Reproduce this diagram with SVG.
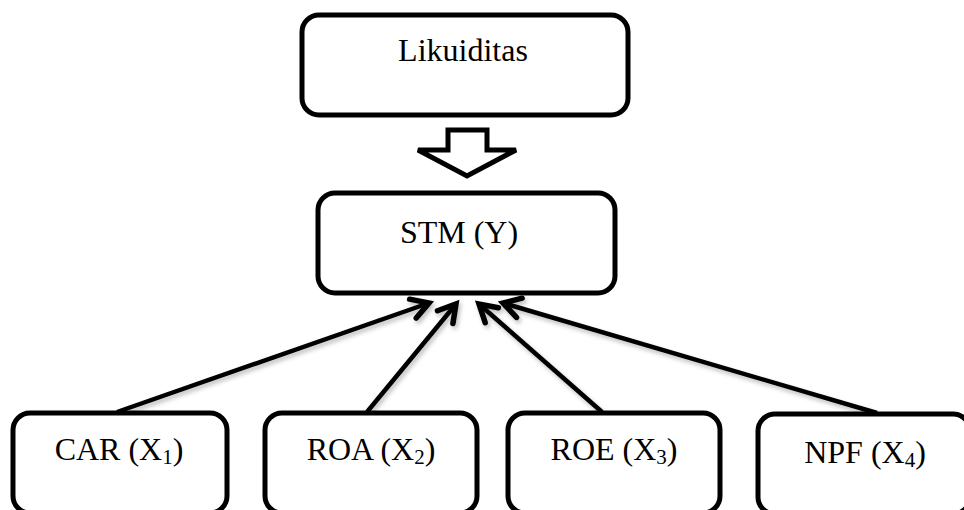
<svg xmlns="http://www.w3.org/2000/svg" width="964" height="510" viewBox="0 0 964 510">
<style>
.box{fill:#fff;stroke:#000;stroke-width:5}
.t{font-family:"Liberation Serif","Times New Roman",serif;font-size:32px;fill:#000;text-anchor:middle}
.sub{font-size:21px}
.conn{stroke:#000;stroke-width:4.5;fill:none;marker-end:url(#arr);filter:url(#sh)}
</style>
<defs>
<marker id="arr" markerUnits="userSpaceOnUse" markerWidth="40" markerHeight="40" viewBox="-20 -20 40 40" refX="0" refY="0" orient="auto" overflow="visible">
<path d="M-17,-10 L0,0 L-17,10" fill="none" stroke="#000" stroke-width="5.5" stroke-linecap="round" stroke-linejoin="miter"/>
</marker>
<filter id="sh" x="-10%" y="-10%" width="120%" height="120%">
<feDropShadow dx="2" dy="3" stdDeviation="2" flood-color="#000" flood-opacity="0.25"/>
</filter>
</defs>
<rect width="964" height="510" fill="#fff"/>
<g id="connectors">
<line class="conn" x1="117" y1="412" x2="429" y2="303"/>
<line class="conn" x1="367" y1="412" x2="456" y2="304"/>
<line class="conn" x1="602" y1="412" x2="479" y2="304"/>
<line class="conn" x1="877" y1="413" x2="503" y2="303"/>
<path id="bigarrow" d="M448,130 L487,130 L487,150 L516,150 L467,176 L418,150 L448,150 Z" fill="#fff" stroke="#000" stroke-width="5" stroke-linejoin="miter"/>
</g>
<g id="likuiditas">
<rect class="box" x="302" y="15" width="326" height="100" rx="17"/>
<text class="t" x="463" y="61">Likuiditas</text>
</g>
<g id="stm">
<rect class="box" x="318" y="193" width="297" height="100" rx="17"/>
<text class="t" x="459" y="243">STM (Y)</text>
</g>
<g id="car">
<rect class="box" x="13" y="413" width="214" height="100" rx="17"/>
<text class="t" x="119" y="460">CAR (X<tspan class="sub" dy="4">1</tspan><tspan dy="-4">)</tspan></text>
</g>
<g id="roa">
<rect class="box" x="265" y="413" width="212" height="100" rx="17"/>
<text class="t" x="371" y="460">ROA (X<tspan class="sub" dy="4">2</tspan><tspan dy="-4">)</tspan></text>
</g>
<g id="roe">
<rect class="box" x="508" y="413" width="212" height="100" rx="17"/>
<text class="t" x="614" y="460">ROE (X<tspan class="sub" dy="4">3</tspan><tspan dy="-4">)</tspan></text>
</g>
<g id="npf">
<rect class="box" x="758" y="414" width="212" height="100" rx="17"/>
<text class="t" x="865" y="463">NPF (X<tspan class="sub" dy="4">4</tspan><tspan dy="-4">)</tspan></text>
</g>
</svg>
